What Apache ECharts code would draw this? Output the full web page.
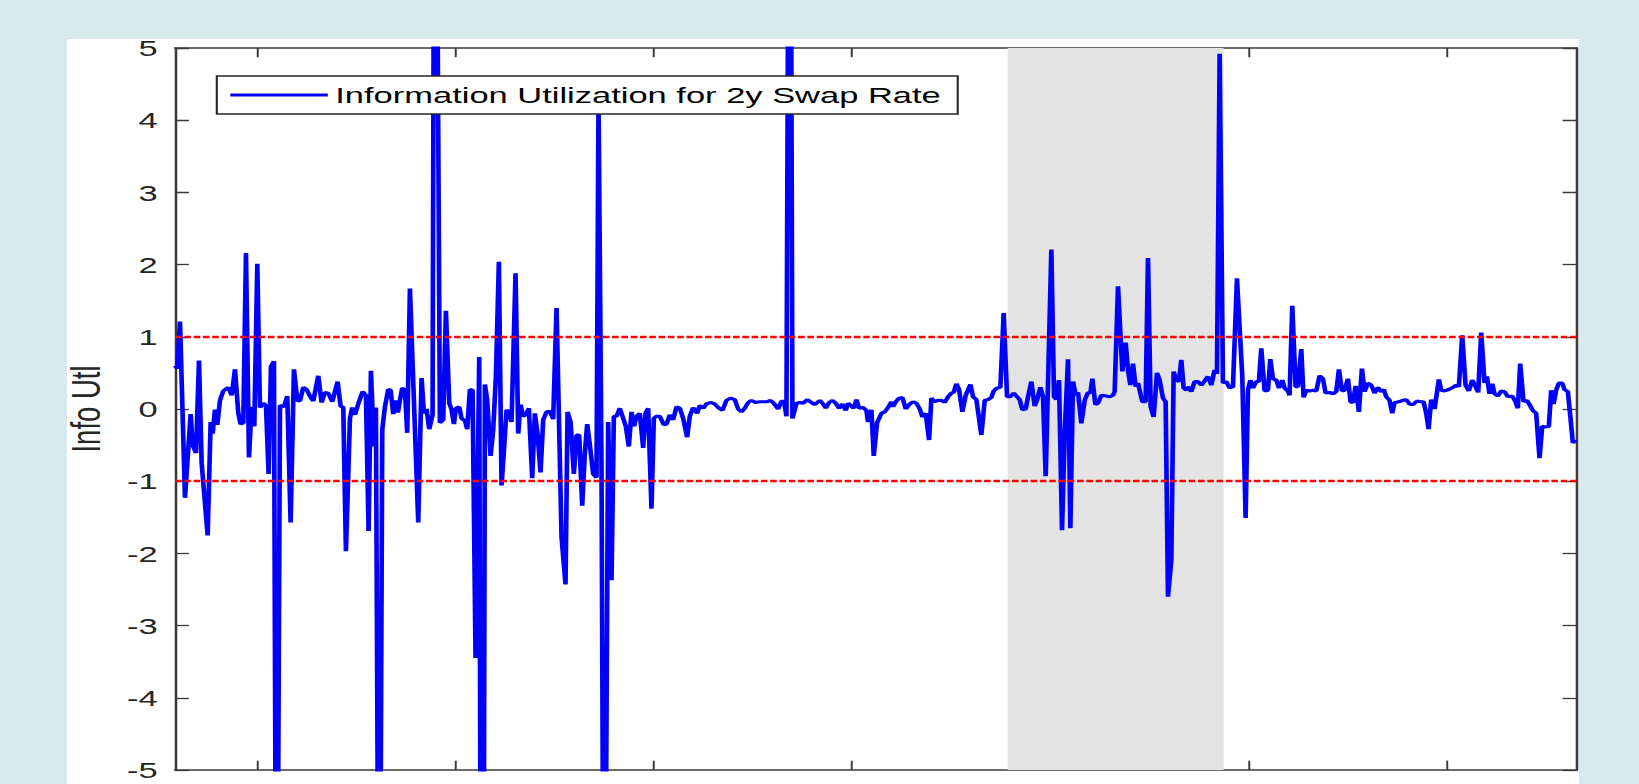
<!DOCTYPE html>
<html>
<head>
<meta charset="utf-8">
<script src="https://cdn.jsdelivr.net/npm/echarts@6.0.0/dist/echarts.min.js"></script>
<style>
html, body { margin: 0; padding: 0; width: 1639px; height: 784px; overflow: hidden; background: #d9eaee; }
#panel { position: absolute; left: 67px; top: 39px; width: 1512px; height: 745px; background: #ffffff; }
#chart { position: absolute; left: 20px; top: 20px; width: 1079.33px; height: 764px; transform: scaleX(1.5); transform-origin: 0 0; }
</style>
</head>
<body>
<div id="panel"></div>
<div id="chart"></div>
<script>
// ---- chart text ----
const seriesName = 'Information Utilization for 2y Swap Rate';
const yAxisTitle = 'Info Utl';

// ---- axes (abstract observation-time units) ----
const timeRange = [0, 4206];
const tickTimes = [247, 842, 1437, 2032, 2627, 3222, 3817];
const yRange = [-5, 5];
const yStep = 1;

// ---- shaded period and threshold lines ----
const shadedPeriod = [2499, 3147];
const thresholds = [1, -1];

// ---- series: observation times and values ----
const obsTime = [
  0,7,15,30,47,53,63,72,80,98,107,113,120,127,135,145,160,170,180,190,
  197,205,213,222,230,238,247,255,265,273,281,288,297,305,315,327,337,347,357,367,
  375,385,395,405,415,430,440,450,460,472,488,497,505,513,525,532,540,550,563,573,
  581,588,597,603,613,622,630,640,647,655,663,669,675,682,690,697,705,730,740,747,
  755,763,773,780,795,805,813,823,830,837,843,853,860,870,877,885,
  893,902,913,919,925,930,937,947,955,963,972,980,988,995,1003,1010,1022,1030,1037,1045,
  1053,1062,1072,1080,1088,1097,1105,1115,1125,1135,1145,1160,1172,1178,1187,1197,1205,1213,1222,1230,
  1237,1245,1255,1265,1271,1280,1288,1300,1310,1317,1325,1335,1343,1353,1362,1370,1378,1385,1395,1405,
  1412,1420,1430,1437,1445,1455,1467,1475,1485,1495,1505,1515,1525,1537,1545,1555,1567,1575,1585,1595,
  1607,1620,1630,1643,1655,1667,1680,1690,1700,1710,1720,1730,1742,1755,
  1765,1777,1787,1797,1810,1820,1828,1835,1845,1853,1865,1875,1885,1897,1907,1920,1935,1945,1953,1963,
  1973,1983,1993,2003,2013,2020,2030,2037,2045,2053,2065,2075,2080,2090,2097,2107,2120,2130,2140,2150,
  2155,2163,2173,2183,2193,2203,2215,2225,2235,2243,2253,2263,2270,2280,2290,2300,2310,2320,2330,2337,
  2345,2353,2363,2373,2387,2395,2405,2420,2430,2440,2450,2457,2467,2477,2487,2497,2507,2517,2527,2535,
  2543,2553,2560,2570,2580,2587,2597,2605,2613,
  2630,2638,2645,2653,2662,2670,2680,2687,2695,2703,2710,2720,2730,2740,2747,2753,2762,2770,2780,2795,
  2805,2815,2820,2830,2843,2853,2860,2867,2875,2883,2890,2895,2903,2913,2920,2928,2937,2947,2955,2965,
  2973,2980,2990,2997,3005,3013,3020,3027,3035,3043,3050,3060,3070,3080,3090,3100,3110,3120,3127,3135,
  3145,3155,3165,3175,3187,3203,3213,3220,3227,3235,3245,3253,3260,3270,3280,3287,3295,3305,3313,3323,
  3330,3340,3345,3353,3363,3370,3380,3387,3395,3405,3415,3425,3435,3445,3453,3465,3475,3485,3493,
  3502,3510,3520,3528,3535,3543,3553,3562,3570,3580,3590,3600,3610,3620,3628,3635,3645,3653,3660,3673,
  3685,3695,3705,3715,3727,3737,3747,3755,3762,3770,3780,3793,3800,3810,3823,3835,3845,3853,3863,3873,
  3883,3893,3903,3911,3920,3930,3937,3945,3953,3960,3970,3980,3990,4000,4013,4023,4030,4037,4047,4057,
  4065,4075,4085,4095,4103,4113,4123,4130,4137,4145,4153,4163,4170,4180,4187,4195,4203
];
const infoUtil = [
  0.60,0.56,1.21,-1.23,-0.07,-0.50,-0.61,0.67,-0.75,-1.75,-0.18,-0.34,-0.01,-0.22,0.12,0.25,0.30,0.19,0.55,-0.06,
  -0.21,-0.19,2.16,-0.67,0.03,-0.24,2.01,0.02,0.08,0.05,-0.90,0.59,0.66,-10,0.05,0.03,0.18,-1.57,0.55,0.12,
  0.11,0.30,0.27,0.18,0.11,0.46,0.09,0.23,0.22,0.10,0.38,0.04,0.02,-1.97,-0.13,0.02,-0.08,0.07,0.24,0.19,
  -1.69,0.53,-0.52,0.02,-10,-0.29,0.03,0.27,0.26,-0.07,0.12,-0.05,0.12,0.29,0.26,-0.33,1.67,-1.57,0.43,-0.06,
  0.00,-0.28,-0.08,12,-0.19,-0.15,1.36,0.08,-0.01,-0.21,0.01,0.03,-0.13,-0.16,-0.28,0.27,
  0.26,-3.45,0.72,-10,-10,0.34,0.12,-0.65,-0.29,0.45,2.04,-1.06,-0.52,-0.01,-0.06,-0.18,1.88,-0.34,0.06,-0.10,
  -0.08,0.01,-0.96,-0.06,-0.34,-0.88,-0.15,-0.04,-0.03,-0.14,1.40,-1.77,-2.43,-0.04,-0.18,-0.90,-0.36,-0.36,-1.34,-0.61,
  -0.21,-0.50,-0.90,-0.95,4.30,-0.80,-10,-0.18,-2.37,-0.10,-0.10,0.01,-0.10,-0.24,-0.52,-0.04,-0.24,-0.10,-0.06,-0.54,
  -0.06,0.01,-1.38,-0.13,-0.10,-0.10,-0.22,-0.21,-0.08,-0.15,0.03,0.01,-0.13,-0.39,-0.10,0.02,-0.06,0.05,0.01,0.07,
  0.09,0.07,0.02,-0.02,0.12,0.15,0.13,0.00,-0.04,0.01,0.09,0.12,0.09,0.10,
  0.10,0.10,0.12,0.08,0.00,0.11,0.10,-0.10,12,-0.13,0.08,0.09,0.08,0.13,0.10,0.06,0.12,0.07,0.01,0.09,
  0.12,0.08,0.01,0.07,-0.02,0.08,0.04,0.01,0.13,0.01,0.02,-0.02,-0.18,-0.01,-0.65,-0.19,-0.06,-0.04,0.02,0.10,
  0.03,0.10,0.15,0.16,0.00,0.06,0.10,0.08,0.00,-0.11,-0.06,-0.43,0.15,0.10,0.12,0.12,0.09,0.17,0.22,0.23,
  0.35,0.27,-0.04,0.19,0.34,0.17,0.13,-0.36,0.12,0.13,0.16,0.25,0.29,0.30,1.33,0.17,0.17,0.22,0.17,0.13,
  -0.01,0.00,0.17,0.38,0.04,0.12,0.30,0.17,-0.93,
  2.21,0.17,0.13,0.40,-1.68,-0.34,0.69,-1.65,0.38,0.19,0.23,-0.20,0.12,0.23,0.22,0.42,0.06,0.08,0.19,0.18,
  0.17,0.19,0.24,1.70,0.52,0.92,0.54,0.33,0.63,0.31,0.36,0.26,0.10,0.10,2.09,0.03,-0.11,0.50,0.40,0.15,
  0.10,-2.60,-2.09,0.52,0.40,0.38,0.68,0.29,0.26,0.31,0.24,0.38,0.38,0.33,0.39,0.45,0.33,0.54,0.49,4.92,
  0.36,0.38,0.29,0.31,1.81,0.45,-1.51,0.26,0.40,0.29,0.38,0.38,0.84,0.25,0.26,0.69,0.42,0.40,0.29,0.40,
  0.29,0.25,0.19,1.43,0.31,0.31,0.83,0.16,0.26,0.25,0.26,0.25,0.46,0.42,0.22,0.23,0.21,0.24,0.55,
  0.25,0.26,0.42,0.10,0.09,0.32,-0.04,0.56,0.24,0.36,0.33,0.22,0.30,0.24,0.27,0.17,0.12,-0.06,0.09,0.10,
  0.12,0.13,0.07,0.06,0.11,0.10,0.10,-0.06,-0.28,0.13,0.00,0.41,0.26,0.25,0.27,0.30,0.33,0.31,1.02,0.33,
  0.25,0.40,0.31,0.23,1.06,0.36,0.45,0.21,0.35,0.21,0.18,0.25,0.24,0.17,0.18,0.10,0.01,0.63,0.10,0.12,
  0.06,-0.02,-0.06,-0.68,-0.24,-0.25,-0.24,0.26,0.07,0.26,0.36,0.36,0.27,0.24,-0.08,-0.47,-0.43
];

// ---- styles ----
const FONT = 'Liberation Sans, Arial, Helvetica, sans-serif';
const AXIS_COLOR = '#3a3a3a';
const TEXT_COLOR = '#262626';

const seriesData = obsTime.map((t, i) => [t, infoUtil[i]]);

const frameLine = { show: true, onZero: false, lineStyle: { color: AXIS_COLOR, width: 1.7 } };
const tickStyle = { show: true, inside: true, length: 9.3, lineStyle: { color: AXIS_COLOR, width: 1.3 } };

const xAxisBase = {
  type: 'value', min: timeRange[0], max: timeRange[1],
  axisLine: frameLine,
  axisTick: Object.assign({}, tickStyle, { customValues: tickTimes }),
  axisLabel: { show: false },
  splitLine: { show: false }
};
const yAxisBase = {
  type: 'value', min: yRange[0], max: yRange[1], interval: yStep,
  axisLine: frameLine,
  axisTick: tickStyle,
  splitLine: { show: false }
};

const chart = echarts.init(document.getElementById('chart'), null, { renderer: 'svg' });
chart.setOption({
  animation: false,
  textStyle: { fontFamily: FONT },
  grid: { left: 103.33, right: 41.33, top: 28, bottom: 14, containLabel: false, outerBoundsMode: 'none' },
  legend: {
    data: [seriesName],
    left: 131.2, top: 56,
    icon: 'rect', itemWidth: 65, itemHeight: 3,
    padding: [7, 11, 7, 9],
    backgroundColor: '#ffffff',
    borderColor: TEXT_COLOR, borderWidth: 1.4, borderRadius: 0,
    selectedMode: false,
    textStyle: { fontFamily: FONT, fontSize: 23, color: '#000000', lineHeight: 24 }
  },
  xAxis: [
    Object.assign({}, xAxisBase, { position: 'bottom' }),
    Object.assign({}, xAxisBase, { position: 'top' })
  ],
  yAxis: [
    Object.assign({}, yAxisBase, {
      position: 'left',
      name: yAxisTitle, nameLocation: 'middle', nameRotate: 90, nameGap: 48.5,
      nameTextStyle: { fontFamily: FONT, fontSize: 27.5, lineHeight: 22, color: TEXT_COLOR },
      axisLabel: { show: true, margin: 11.5, fontFamily: FONT, fontSize: 23, lineHeight: 17, color: TEXT_COLOR }
    }),
    Object.assign({}, yAxisBase, { position: 'right', axisLabel: { show: false } })
  ],
  series: [{
    name: seriesName,
    type: 'line',
    xAxisIndex: 0, yAxisIndex: 0,
    data: seriesData,
    symbol: 'none', showSymbol: false,
    clip: true,
    z: 3,
    lineStyle: { color: '#0000ff', width: 3.1 },
    itemStyle: { color: '#0000ff' },
    emphasis: { disabled: true },
    markArea: {
      silent: true,
      itemStyle: { color: '#e3e3e3', opacity: 1 },
      data: [[{ xAxis: shadedPeriod[0] }, { xAxis: shadedPeriod[1] }]]
    },
    markLine: {
      silent: true,
      symbol: ['none', 'none'],
      label: { show: false },
      lineStyle: { color: '#ff0000', type: [4.4, 1.8], width: 2.4 },
      emphasis: { disabled: true },
      data: thresholds.map(v => ({ yAxis: v }))
    }
  }]
});
</script>
</body>
</html>
